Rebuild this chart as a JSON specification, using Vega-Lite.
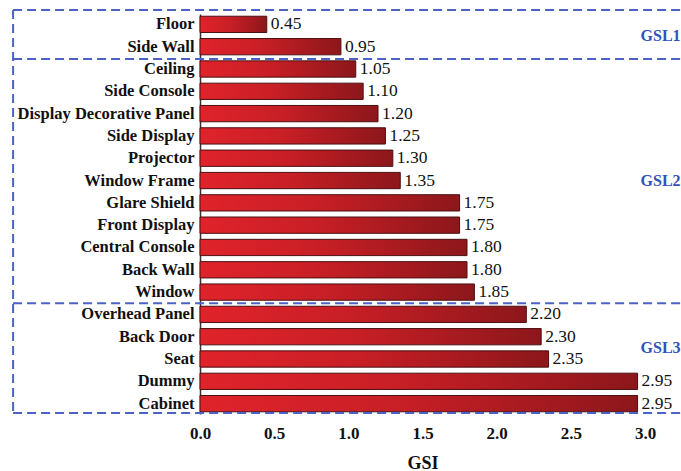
{
  "$schema": "https://vega.github.io/schema/vega-lite/v6.json",
  "autosize": {"type": "none"},
  "width": 445,
  "height": 400,
  "padding": {"left": 200, "top": 14, "right": 36, "bottom": 57},
  "background": "white",
  "config": {
    "view": {"stroke": null},
    "font": "Liberation Serif"
  },
  "layer": [
    {
      "data": {
        "values": [
          {"part": "Floor", "gsi": 0.45},
          {"part": "Side Wall", "gsi": 0.95},
          {"part": "Ceiling", "gsi": 1.05},
          {"part": "Side Console", "gsi": 1.10},
          {"part": "Display Decorative Panel", "gsi": 1.20},
          {"part": "Side Display", "gsi": 1.25},
          {"part": "Projector", "gsi": 1.30},
          {"part": "Window Frame", "gsi": 1.35},
          {"part": "Glare Shield", "gsi": 1.75},
          {"part": "Front Display", "gsi": 1.75},
          {"part": "Central Console", "gsi": 1.80},
          {"part": "Back Wall", "gsi": 1.80},
          {"part": "Window", "gsi": 1.85},
          {"part": "Overhead Panel", "gsi": 2.20},
          {"part": "Back Door", "gsi": 2.30},
          {"part": "Seat", "gsi": 2.35},
          {"part": "Dummy", "gsi": 2.95},
          {"part": "Cabinet", "gsi": 2.95}
        ]
      },
      "encoding": {
        "y": {
          "field": "part",
          "type": "nominal",
          "sort": null,
          "scale": {"paddingInner": 0.27, "paddingOuter": 0.1},
          "axis": {
            "title": null,
            "ticks": false,
            "domain": true,
            "domainColor": "#333333",
            "domainWidth": 1.5,
            "labelFont": "Liberation Serif",
            "labelFontWeight": "bold",
            "labelFontSize": 16.5,
            "labelColor": "#111111",
            "labelPadding": 6
          }
        },
        "x": {
          "field": "gsi",
          "type": "quantitative",
          "scale": {"domain": [0, 3], "nice": false, "zero": false},
          "axis": {
            "title": "GSI",
            "values": [0, 0.5, 1, 1.5, 2, 2.5, 3],
            "format": ".1f",
            "grid": false,
            "ticks": false,
            "domain": false,
            "labelFlush": false,
            "labelFont": "Liberation Serif",
            "labelFontWeight": "bold",
            "labelFontSize": 17,
            "labelColor": "#111111",
            "labelPadding": 11,
            "titleFont": "Liberation Serif",
            "titleFontWeight": "bold",
            "titleFontSize": 18,
            "titleColor": "#111111",
            "titlePadding": 13
          }
        }
      },
      "layer": [
        {
          "mark": {
            "type": "bar",
            "stroke": "#4a1012",
            "strokeWidth": 1,
            "color": {
              "gradient": "linear",
              "x1": 0, "y1": 0, "x2": 1, "y2": 0,
              "stops": [
                {"offset": 0, "color": "#e0232b"},
                {"offset": 0.45, "color": "#c81f26"},
                {"offset": 1, "color": "#8c171b"}
              ]
            }
          }
        },
        {
          "mark": {
            "type": "text",
            "align": "left",
            "baseline": "middle",
            "dx": 4,
            "font": "Liberation Serif",
            "fontSize": 17.5,
            "color": "#111111"
          },
          "encoding": {
            "text": {"field": "gsi", "type": "quantitative", "format": ".2f"}
          }
        }
      ]
    },
    {
      "layer": [
        {
          "data": {
            "values": [
              {"row": -0.645},
              {"row": 1.55},
              {"row": 12.5},
              {"row": 17.42}
            ]
          },
          "mark": {
            "type": "rule",
            "color": "#4c62c4",
            "strokeWidth": 2,
            "strokeDash": [9, 5]
          },
          "encoding": {
            "y": {
              "field": "row",
              "type": "quantitative",
              "scale": {"domain": [-0.465, 17.465], "reverse": true, "nice": false, "zero": false},
              "axis": null
            },
            "x": {"datum": -1.26, "type": "quantitative", "scale": {"domain": [0, 3], "nice": false, "zero": false}},
            "x2": {"datum": 3.8}
          }
        },
        {
          "data": {"values": [{"top": -0.645, "bottom": 17.42}]},
          "mark": {
            "type": "rule",
            "color": "#4c62c4",
            "strokeWidth": 2,
            "strokeDash": [9, 5]
          },
          "encoding": {
            "y": {
              "field": "top",
              "type": "quantitative",
              "scale": {"domain": [-0.465, 17.465], "reverse": true, "nice": false, "zero": false},
              "axis": null
            },
            "y2": {"field": "bottom"},
            "x": {"datum": -1.26, "type": "quantitative", "scale": {"domain": [0, 3], "nice": false, "zero": false}}
          }
        },
        {
          "data": {
            "values": [
              {"level": "GSL1", "row": 0.5},
              {"level": "GSL2", "row": 7.0},
              {"level": "GSL3", "row": 14.5}
            ]
          },
          "mark": {
            "type": "text",
            "align": "left",
            "baseline": "middle",
            "font": "Liberation Serif",
            "fontWeight": "bold",
            "fontSize": 16,
            "color": "#3550bb"
          },
          "encoding": {
            "y": {
              "field": "row",
              "type": "quantitative",
              "scale": {"domain": [-0.465, 17.465], "reverse": true, "nice": false, "zero": false},
              "axis": null
            },
            "x": {"datum": 2.97, "type": "quantitative", "scale": {"domain": [0, 3], "nice": false, "zero": false}},
            "text": {"field": "level"}
          }
        }
      ]
    }
  ],
  "resolve": {"scale": {"y": "independent"}, "axis": {"y": "independent"}}
}
